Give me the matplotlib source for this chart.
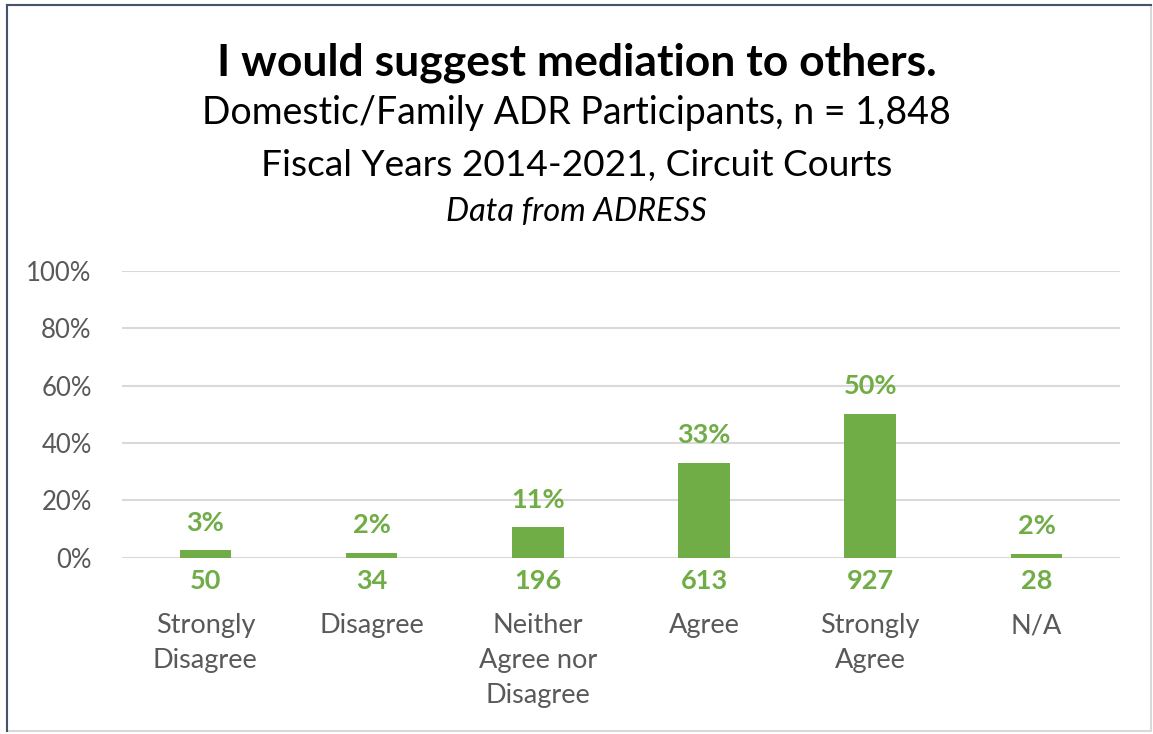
import matplotlib.pyplot as plt
from matplotlib.patches import Rectangle

categories = ["Strongly\nDisagree", "Disagree", "Neither\nAgree nor\nDisagree",
              "Agree", "Strongly\nAgree", "N/A"]
counts = [50, 34, 196, 613, 927, 28]
percents = [2.7, 1.8, 10.6, 33.2, 50.2, 1.5]
pct_labels = ["3%", "2%", "11%", "33%", "50%", "2%"]
yticks = [0, 20, 40, 60, 80, 100]

green = "#70AD47"
gray = "#595959"
font = "Lato"

fig = plt.figure(figsize=(11.53, 7.34), dpi=100)
ax = fig.add_axes([0.106, 0.240, 0.865, 0.391])

x = range(len(categories))
ax.bar(x, percents, width=0.31, color=green, zorder=3)
ax.set_xlim(-0.5, len(categories) - 0.5)
ax.set_ylim(0, 100)
ax.set_yticks(yticks)
ax.set_yticklabels([f"{t}%" for t in yticks], fontsize=18.5, color=gray, family=font)
ax.yaxis.grid(True, color="#D9D9D9", linewidth=1.5, zorder=0)
ax.tick_params(axis="y", length=0, pad=22)
ax.set_xticks(list(x))
ax.set_xticklabels([])
ax.tick_params(axis="x", length=0)
for s in ax.spines.values():
    s.set_visible(False)

for i, (p, lab, c, cat) in enumerate(zip(percents, pct_labels, counts, categories)):
    ax.annotate(lab, (i, p), xytext=(0, 11), textcoords="offset points",
                ha="center", va="bottom", fontsize=19.5, fontweight="bold",
                color=green, family=font)
    ax.annotate(str(c), (i, 0), xytext=(0, -8), textcoords="offset points",
                ha="center", va="top", fontsize=19.5, fontweight="bold",
                color=green, family=font)
    ax.annotate(cat, (i, 0), xytext=(0, -40), textcoords="offset points",
                ha="center", va="top", fontsize=19.5, color=gray, family=font,
                linespacing=1.48)

fig.text(0.5, 0.915, "I would suggest mediation to others.", ha="center",
         va="center", fontsize=32, fontweight="bold", color="black", family=font)
fig.text(0.5, 0.846, "Domestic/Family ADR Participants, n = 1,848", ha="center",
         va="center", fontsize=27, color="black", family=font)
fig.text(0.5, 0.775, "Fiscal Years 2014-2021, Circuit Courts", ha="center",
         va="center", fontsize=26.7, color="black", family=font)
fig.text(0.5, 0.711, "Data from ADRESS", ha="center", va="center",
         fontsize=23.5, style="italic", color="black", family=font)

# chart border
fig.add_artist(Rectangle((0.006, 0.004), 0.992, 0.989, transform=fig.transFigure,
                         fill=False, edgecolor="#D9D9D9", linewidth=1.5))
fig.add_artist(plt.Line2D([0.006, 0.006], [0.004, 0.993], transform=fig.transFigure,
                          color="#44546A", linewidth=1.5))
fig.add_artist(plt.Line2D([0.006, 0.998], [0.993, 0.993], transform=fig.transFigure,
                          color="#44546A", linewidth=1.5))

fig.savefig("out.png", dpi=100)
